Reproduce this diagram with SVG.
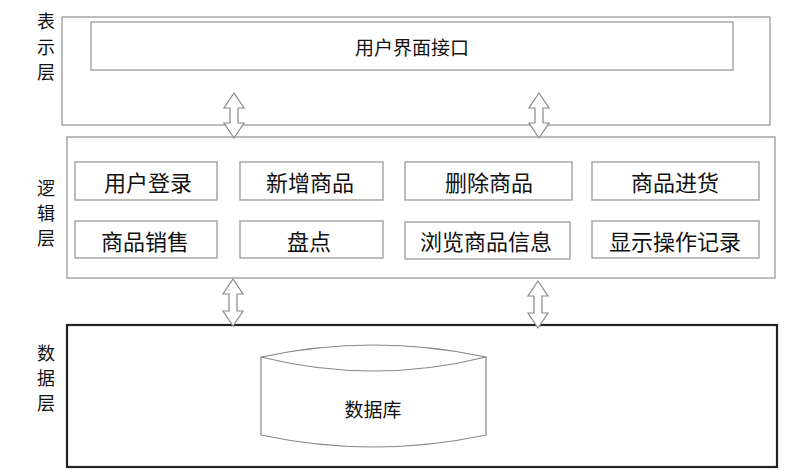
<svg xmlns="http://www.w3.org/2000/svg" width="796" height="474" viewBox="0 0 796 474">
<style>
text{font-family:"Noto Sans CJK SC","Noto Sans",sans-serif;fill:#111;text-anchor:middle;dominant-baseline:central}
.layer{fill:#fff;stroke:#999;stroke-width:1.3}
.box{fill:#fff;stroke:#999;stroke-width:1.3}
.data{fill:#fff;stroke:#222;stroke-width:2.2}
.arr{fill:#fff;stroke:#888;stroke-width:1.2;stroke-linejoin:miter}
.lbl{font-size:18px}
.t{font-size:22px}
</style>
<rect width="796" height="474" fill="#fff"/>
<g id="presentation-layer">
<rect class="layer" x="62" y="17" width="708" height="108"/>
<text class="lbl" x="46" y="20">表</text>
<text class="lbl" x="46" y="46">示</text>
<text class="lbl" x="46" y="71">层</text>
</g>
<g id="ui">
<rect class="box" x="91" y="22" width="642" height="48"/>
<text x="412" y="46" style="font-size:19px">用户界面接口</text>
</g>
<g id="logic-layer">
<rect class="layer" x="67" y="137" width="708" height="141"/>
<text class="lbl" x="46" y="187">逻</text>
<text class="lbl" x="46" y="212">辑</text>
<text class="lbl" x="46" y="237">层</text>
</g>
<g id="n1"><rect class="box" x="75" y="162" width="142" height="38"/><text class="t" x="148" y="181">用户登录</text></g>
<g id="n2"><rect class="box" x="240" y="162" width="143" height="38"/><text class="t" x="310" y="181">新增商品</text></g>
<g id="n3"><rect class="box" x="405" y="162" width="167" height="38"/><text class="t" x="489" y="181">删除商品</text></g>
<g id="n4"><rect class="box" x="592" y="162" width="167" height="38"/><text class="t" x="675" y="181">商品进货</text></g>
<g id="n5"><rect class="box" x="75" y="221" width="142" height="37"/><text class="t" x="145" y="240">商品销售</text></g>
<g id="n6"><rect class="box" x="240" y="221" width="143" height="37"/><text class="t" x="309" y="240">盘点</text></g>
<g id="n7"><rect class="box" x="405" y="222" width="165" height="37"/><text class="t" x="486" y="240">浏览商品信息</text></g>
<g id="n8"><rect class="box" x="592" y="221" width="167" height="37"/><text class="t" x="675" y="240">显示操作记录</text></g>
<g id="data-layer">
<rect class="data" x="67" y="325" width="710" height="142"/>
<text class="lbl" x="46" y="352">数</text>
<text class="lbl" x="46" y="377">据</text>
<text class="lbl" x="46" y="402">层</text>
</g>
<g id="database">
<path d="M261,357 Q373.5,333 486,357 L486,435 Q373.5,459 261,435 Z" fill="#fff" stroke="#888" stroke-width="1.2"/>
<path d="M261,357 Q373.5,385 486,357" fill="none" stroke="#888" stroke-width="1.2"/>
<text x="373" y="408" style="font-size:19px">数据库</text>
</g>
<g id="connectors">
<path class="arr" d="M234,93 L244,108 L238,108 L238,123 L244,123 L234,138 L224,123 L230,123 L230,108 L224,108 Z"/>
<path class="arr" d="M539,93 L549,108 L543,108 L543,123 L549,123 L539,138 L529,123 L535,123 L535,108 L529,108 Z"/>
<path class="arr" d="M233,279 L243,294 L237,294 L237,311 L243,311 L233,326 L223,311 L229,311 L229,294 L223,294 Z"/>
<path class="arr" d="M538,281 L548,296 L542,296 L542,313 L548,313 L538,328 L528,313 L534,313 L534,296 L528,296 Z"/>
</g>
</svg>
